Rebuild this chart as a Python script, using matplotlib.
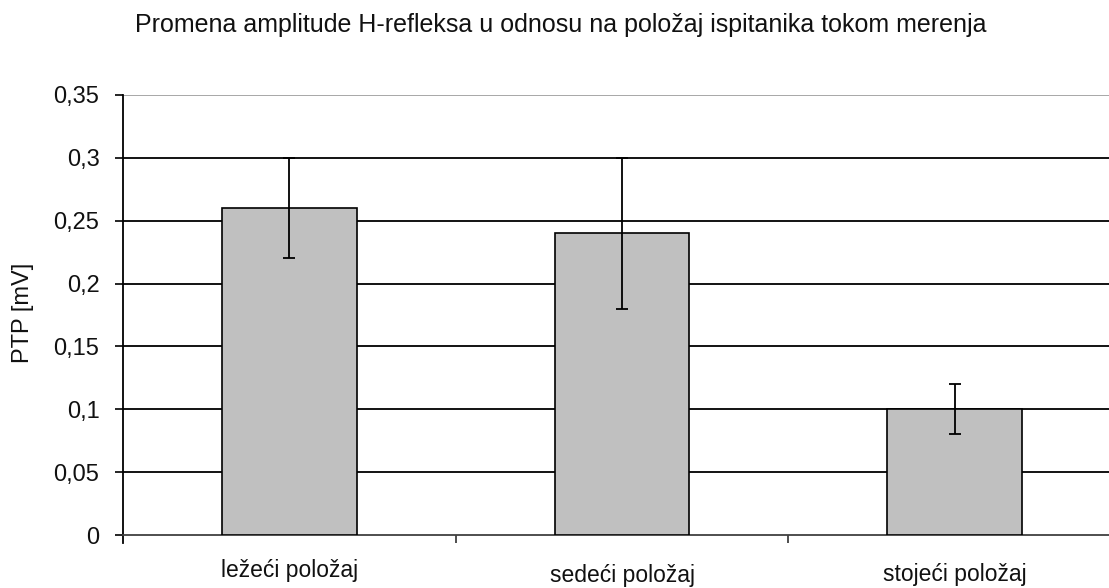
import matplotlib
matplotlib.use("Agg")
import matplotlib.pyplot as plt
from matplotlib.ticker import FixedLocator
import matplotlib.transforms as mtrans

plt.rcParams['font.family'] = ['Liberation Sans', 'DejaVu Sans']

categories = ["ležeći položaj", "sedeći položaj", "stojeći položaj"]
values = [0.26, 0.24, 0.10]
errors = [0.04, 0.06, 0.02]
yticks = [0, 0.05, 0.1, 0.15, 0.2, 0.25, 0.3, 0.35]
ytick_labels = ["0", "0,05", "0,1", "0,15", "0,2", "0,25", "0,3", "0,35"]
title = "Promena amplitude H-refleksa u odnosu na položaj ispitanika tokom merenja"
ylabel = "PTP [mV]"

W, H = 1109, 588
fig = plt.figure(figsize=(W / 100, H / 100), dpi=100)
left, right, top, bottom = 123, 1121, 95, 535
ax = fig.add_axes([left / W, (H - bottom) / H, (right - left) / W, (bottom - top) / H])

x = list(range(len(categories)))
ax.bar(x, values, width=0.405, color="#C0C0C0", edgecolor="black", linewidth=1.2, zorder=3)
ax.errorbar(x, values, yerr=errors, fmt="none", ecolor="black", elinewidth=1.3,
            capsize=4.3, capthick=1.3, zorder=4)

ax.set_xlim(-0.5, len(categories) - 0.5)
ax.set_ylim(0, 0.35)
ax.set_yticks(yticks)
ax.set_yticklabels(ytick_labels, fontsize=17, color="#111111")
for y in yticks[1:-1]:
    ax.axhline(y, color="black", linewidth=1.3, zorder=1)
ax.axhline(0.35, color="#a0a0a0", linewidth=1.3, zorder=1)

ax.xaxis.set_major_locator(FixedLocator([0.5, 1.5]))
ax.set_xticklabels([])
ax.tick_params(axis="x", direction="out", length=6, width=1.2, color="#303030")
ax.tick_params(axis="y", direction="out", length=6, width=1.2, pad=11)

for s in ["top", "right"]:
    ax.spines[s].set_visible(False)
ax.spines["left"].set_linewidth(1.3)
ax.spines["left"].set_bounds(-0.006, 0.35)
ax.spines["bottom"].set_linewidth(1.3)
ax.spines["bottom"].set_color("#404040")

trans = mtrans.blended_transform_factory(ax.transData, fig.transFigure)
label_baseline = [577, 582, 581]
for xi, lab, ly in zip(x, categories, label_baseline):
    ax.text(xi, 1 - ly / H, lab, transform=trans, ha="center", va="baseline",
            fontsize=16.5, color="#111111")

fig.text(23 / W, 1 - 313 / H, ylabel, rotation=90, ha="center", va="center",
         fontsize=17, color="#111111")
fig.text(561 / W, 1 - 25 / H, title, ha="center", va="center", fontsize=18, color="#111111")

fig.savefig("out.png", dpi=100)
